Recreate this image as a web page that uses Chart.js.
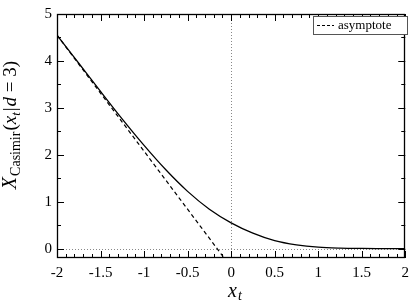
<!DOCTYPE html>
<html>
<head>
<meta charset="utf-8">
<script src="https://cdn.jsdelivr.net/npm/chart.js@4.4.1/dist/chart.umd.min.js"></script>
<style>
  html, body { margin: 0; padding: 0; background: #fff; }
  canvas { display: block; }
</style>
</head>
<body>
<canvas id="casimirChart" width="415" height="303"></canvas>
<script>
// values
const xValues = [-2, -1.75, -1.5, -1.25, -1, -0.75, -0.5, -0.25, 0, 0.25, 0.5, 0.75, 1, 1.25, 1.5, 1.75, 2];
const casimirValues = [4.55, 3.95, 3.35, 2.76, 2.20, 1.68, 1.22, 0.84, 0.55, 0.33, 0.17, 0.08, 0.03, 0.01, 0.003, 0.001, 0];
const asymptoteX = [-2, -0.08];
const asymptoteY = [4.55, -0.2];
const xTicks = [-2, -1.5, -1, -0.5, 0, 0.5, 1, 1.5, 2];
const yTicks = [0, 1, 2, 3, 4, 5];
const legendLabel = "asymptote";

const serif = "'Liberation Serif', 'DejaVu Serif', serif";

function toPoints(xs, ys) {
  return xs.map((x, i) => ({ x: x, y: ys[i] }));
}

// ticks pointing inwards on all four sides, frame, dotted zero lines, legend, axis titles
const framePlugin = {
  id: "frame",
  beforeDatasetsDraw(chart) {
    const { ctx, chartArea: a, scales } = chart;
    const x0 = scales.x.getPixelForValue(0);
    const y0 = scales.y.getPixelForValue(0);
    ctx.save();
    ctx.strokeStyle = "#888";
    ctx.lineWidth = 1;
    ctx.setLineDash([1, 2]);
    ctx.beginPath();
    ctx.moveTo(Math.round(x0) + 0.5, a.top);
    ctx.lineTo(Math.round(x0) + 0.5, a.bottom);
    ctx.moveTo(a.left, Math.round(y0) + 0.5);
    ctx.lineTo(a.right, Math.round(y0) + 0.5);
    ctx.stroke();
    ctx.restore();
  },
  afterDraw(chart) {
    const { ctx, chartArea: a, scales } = chart;
    ctx.save();
    ctx.strokeStyle = "#000";
    ctx.lineWidth = 1;
    ctx.beginPath();
    // x ticks: major every 0.5, minor every 0.1
    for (let i = -20; i <= 20; i++) {
      const px = Math.round(scales.x.getPixelForValue(i / 10)) + 0.5;
      const len = i % 5 === 0 ? 7 : 4;
      ctx.moveTo(px, a.bottom);
      ctx.lineTo(px, a.bottom - len);
      ctx.moveTo(px, a.top);
      ctx.lineTo(px, a.top + len);
    }
    // y ticks: major every 1, minor every 0.5
    for (let j = 0; j <= 10; j++) {
      const py = Math.round(scales.y.getPixelForValue(j / 2)) + 0.5;
      const len = j % 2 === 0 ? 7 : 4;
      ctx.moveTo(a.left, py);
      ctx.lineTo(a.left + len, py);
      ctx.moveTo(a.right, py);
      ctx.lineTo(a.right - len, py);
    }
    ctx.stroke();
    ctx.lineWidth = 1.3;
    ctx.strokeRect(Math.round(a.left) + 0.5, Math.round(a.top) + 0.5,
      Math.round(a.right - a.left) - 1, Math.round(a.bottom - a.top) - 1);

    // legend box
    const bx = 313, by = 16, bw = 94, bh = 18;
    ctx.fillStyle = "#fff";
    ctx.fillRect(bx, by, bw, bh);
    ctx.lineWidth = 1;
    ctx.strokeStyle = "#555";
    ctx.strokeRect(bx + 0.5, by + 0.5, bw, bh);
    ctx.strokeStyle = "#000";
    ctx.setLineDash([3, 2]);
    ctx.beginPath();
    ctx.moveTo(bx + 4, by + 9.5);
    ctx.lineTo(bx + 21, by + 9.5);
    ctx.stroke();
    ctx.setLineDash([]);
    ctx.fillStyle = "#000";
    ctx.font = "13px " + serif;
    ctx.textBaseline = "middle";
    ctx.textAlign = "left";
    ctx.fillText(legendLabel, bx + 25, by + 9.5);

    // x axis title: x_t
    ctx.textBaseline = "alphabetic";
    ctx.font = "italic 20px " + serif;
    ctx.fillText("x", 228, 297);
    ctx.font = "italic 14px " + serif;
    ctx.fillText("t", 238, 300);

    // y axis title: X_Casimir(x_t | d = 3), shrunk to span about 145px
    ctx.translate(16, 125);
    ctx.rotate(-Math.PI / 2);
    const parts = [
      { t: "X", italic: true, size: 20, dy: 0, gap: 1 },
      { t: "Casimir", italic: false, size: 14, dy: 4, gap: 1 },
      { t: "(", italic: false, size: 19, dy: 0, gap: 0 },
      { t: "x", italic: true, size: 19, dy: 0, gap: 0 },
      { t: "t", italic: true, size: 13, dy: 4, gap: 1 },
      { t: "|", italic: false, size: 19, dy: 0, gap: 1 },
      { t: "d", italic: true, size: 19, dy: 0, gap: 0 },
      { t: " = 3)", italic: false, size: 19, dy: 0, gap: 0 },
    ];
    const fontOf = (p, k) => (p.italic ? "italic " : "") + (p.size * k).toFixed(1) + "px " + serif;
    const measure = (k) => parts.reduce((sum, p) => {
      ctx.font = fontOf(p, k);
      return sum + ctx.measureText(p.t).width + p.gap;
    }, 0);
    let k = 1;
    const target = 145;
    const w1 = measure(1);
    if (w1 > target) k = target / w1;
    const total = measure(k);
    let pos = -total / 2;
    parts.forEach((p) => {
      ctx.font = fontOf(p, k);
      ctx.fillText(p.t, pos, p.dy * k);
      pos += ctx.measureText(p.t).width + p.gap;
    });
    ctx.restore();
  },
};

const ctx = document.getElementById("casimirChart").getContext("2d");
new Chart(ctx, {
  type: "scatter",
  data: {
    datasets: [
      {
        label: "X_Casimir",
        data: toPoints(xValues, casimirValues),
        showLine: true,
        borderColor: "#000",
        borderWidth: 1.3,
        pointRadius: 0,
        cubicInterpolationMode: "monotone",
      },
      {
        label: legendLabel,
        data: toPoints(asymptoteX, asymptoteY),
        showLine: true,
        borderColor: "#000",
        borderWidth: 1.2,
        borderDash: [4, 3],
        pointRadius: 0,
      },
    ],
  },
  options: {
    responsive: false,
    animation: false,
    devicePixelRatio: 1,
    layout: { padding: { top: 5, right: 4, left: 0, bottom: 0 } },
    plugins: {
      legend: { display: false },
      tooltip: { enabled: false },
    },
    scales: {
      x: {
        type: "linear",
        min: -2,
        max: 2,
        grid: { display: false, drawTicks: false },
        border: { display: false },
        afterBuildTicks: (s) => { s.ticks = xTicks.map((v) => ({ value: v })); },
        afterFit: (s) => { s.height = 45; },
        ticks: {
          color: "#000",
          padding: 6,
          maxRotation: 0,
          autoSkip: false,
          font: { family: serif, size: 15 },
          callback: (v) => String(v),
        },
      },
      y: {
        type: "linear",
        min: -0.2,
        max: 5,
        grid: { display: false, drawTicks: false },
        border: { display: false },
        afterBuildTicks: (s) => { s.ticks = yTicks.map((v) => ({ value: v })); },
        afterFit: (s) => { s.width = 57; },
        ticks: {
          color: "#000",
          padding: 5,
          autoSkip: false,
          font: { family: serif, size: 15 },
          callback: (v) => String(v),
        },
      },
    },
  },
  plugins: [framePlugin],
});
</script>
</body>
</html>
